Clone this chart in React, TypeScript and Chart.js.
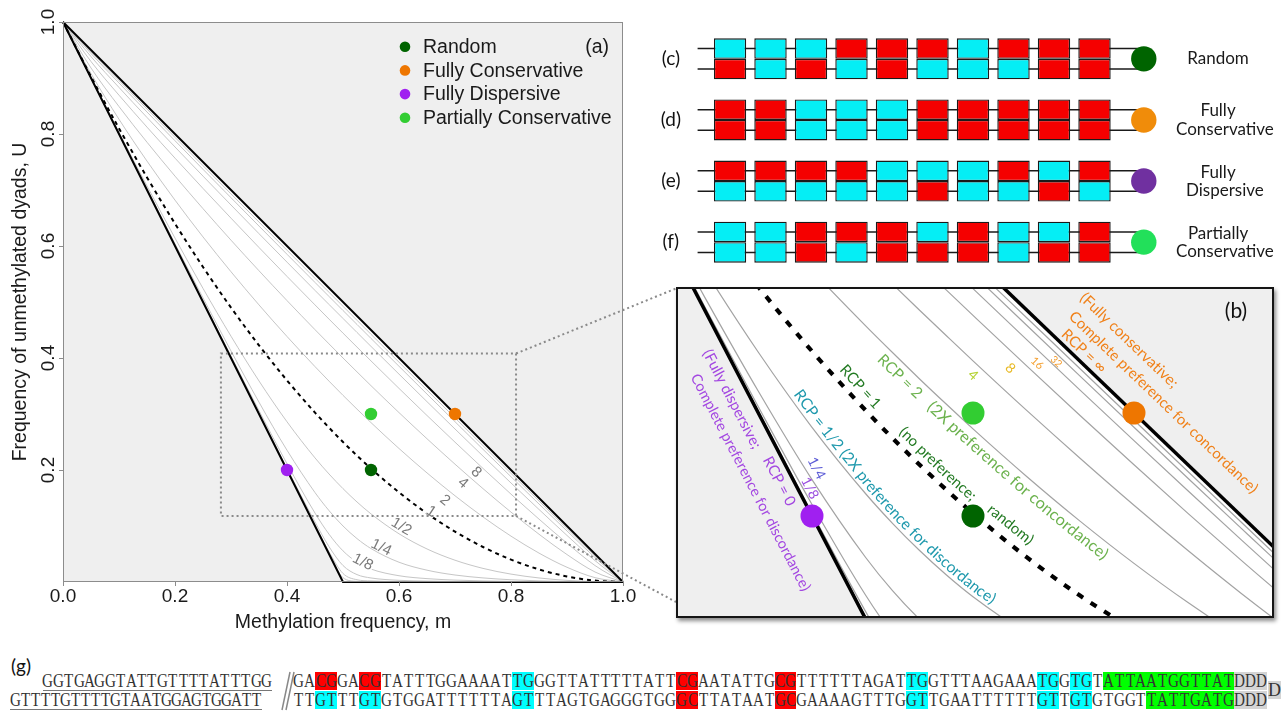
import React, { useEffect, useRef } from 'react';
import { Chart, registerables } from 'chart.js';
Chart.register(...registerables);

// ================= DATA =================
// methylation frequency grid (m) shared by all RCP curves
const mGrid = [0, 0.05, 0.1, 0.15, 0.2, 0.25, 0.3, 0.35, 0.4, 0.45, 0.475, 0.5, 0.525, 0.55, 0.6, 0.65, 0.7, 0.75, 0.8, 0.85, 0.9, 0.95, 1];
// frequency of unmethylated dyads U for each RCP contour
const uRcp_1_64 = [1, 0.9, 0.8, 0.7, 0.6, 0.5, 0.4001, 0.3001, 0.2002, 0.1005, 0.0511, 0.0077, 0.0011, 0.0005, 0.0002, 0.0001, 0.0001, 0, 0, 0, 0, 0, 0];
const uRcp_1_32 = [1, 0.9, 0.8, 0.7, 0.6001, 0.5001, 0.4002, 0.3004, 0.2008, 0.1019, 0.054, 0.0152, 0.004, 0.0019, 0.0008, 0.0004, 0.0002, 0.0001, 0.0001, 0, 0, 0, 0];
const uRcp_1_16 = [1, 0.9, 0.8, 0.7001, 0.6003, 0.5005, 0.4009, 0.3016, 0.203, 0.1072, 0.0632, 0.0294, 0.0132, 0.0072, 0.003, 0.0016, 0.0009, 0.0005, 0.0003, 0.0001, 0, 0, 0];
const uRcp_1_8 = [1, 0.9, 0.8002, 0.7005, 0.601, 0.5019, 0.4034, 0.306, 0.2112, 0.1231, 0.0854, 0.0556, 0.0354, 0.0231, 0.0112, 0.006, 0.0034, 0.0019, 0.001, 0.0005, 0.0002, 0, 0];
const uRcp_1_4 = [1, 0.9002, 0.8008, 0.702, 0.604, 0.5073, 0.4125, 0.3211, 0.2353, 0.1597, 0.1275, 0.1, 0.0775, 0.0597, 0.0353, 0.0211, 0.0125, 0.0073, 0.004, 0.002, 0.0008, 0.0002, 0];
const uRcp_1_2 = [1, 0.9007, 0.8029, 0.7072, 0.6141, 0.5243, 0.4389, 0.359, 0.2861, 0.2216, 0.1929, 0.1667, 0.1429, 0.1216, 0.0861, 0.059, 0.0389, 0.0243, 0.0141, 0.0072, 0.0029, 0.0007, 0];
const uRcp_1 = [1, 0.9025, 0.81, 0.7225, 0.64, 0.5625, 0.49, 0.4225, 0.36, 0.3025, 0.2756, 0.25, 0.2256, 0.2025, 0.16, 0.1225, 0.09, 0.0625, 0.04, 0.0225, 0.01, 0.0025, 0];
const uRcp_2 = [1, 0.9078, 0.8263, 0.7516, 0.6819, 0.6162, 0.554, 0.4948, 0.4384, 0.3846, 0.3587, 0.3333, 0.3087, 0.2846, 0.2384, 0.1948, 0.154, 0.1162, 0.0819, 0.0516, 0.0263, 0.0078, 0];
const uRcp_4 = [1, 0.9179, 0.849, 0.7853, 0.7248, 0.6667, 0.6104, 0.5558, 0.5025, 0.4506, 0.4252, 0.4, 0.3752, 0.3506, 0.3025, 0.2558, 0.2104, 0.1667, 0.1248, 0.0853, 0.049, 0.0179, 0];
const uRcp_8 = [1, 0.9294, 0.8693, 0.8123, 0.7569, 0.7028, 0.6497, 0.5973, 0.5457, 0.4948, 0.4695, 0.4444, 0.4195, 0.3948, 0.3457, 0.2973, 0.2497, 0.2028, 0.1569, 0.1123, 0.0693, 0.0294, 0];
const uRcp_16 = [1, 0.9382, 0.8831, 0.8295, 0.7768, 0.7248, 0.6732, 0.622, 0.5712, 0.5207, 0.4956, 0.4706, 0.4456, 0.4207, 0.3712, 0.322, 0.2732, 0.2248, 0.1768, 0.1295, 0.0831, 0.0382, 0];
const uRcp_32 = [1, 0.9437, 0.8911, 0.8393, 0.788, 0.7369, 0.6862, 0.6356, 0.5852, 0.5349, 0.5099, 0.4848, 0.4599, 0.4349, 0.3852, 0.3356, 0.2862, 0.2369, 0.188, 0.1393, 0.0911, 0.0437, 0];
const uRcp_64 = [1, 0.9467, 0.8954, 0.8445, 0.7939, 0.7434, 0.693, 0.6427, 0.5925, 0.5423, 0.5173, 0.4923, 0.4673, 0.4423, 0.3925, 0.3427, 0.293, 0.2434, 0.1939, 0.1445, 0.0954, 0.0467, 0];
const rcpLabels = ['1/64', '1/32', '1/16', '1/8', '1/4', '1/2', '1', '2', '4', '8', '16', '32', '64'];
const rcpCurves = [uRcp_1_64, uRcp_1_32, uRcp_1_16, uRcp_1_8, uRcp_1_4, uRcp_1_2, uRcp_1, uRcp_2, uRcp_4, uRcp_8, uRcp_16, uRcp_32, uRcp_64];

// limiting cases
const dispersiveM = [0, 0.5, 1];
const dispersiveU = [1, 0, 0];
const conservativeM = [0, 1];
const conservativeU = [1, 0];

// example points
const pointNames = ['Random', 'Fully Conservative', 'Fully Dispersive', 'Partially Conservative'];
const pointM = [0.55, 0.7, 0.4, 0.55];
const pointU = [0.2, 0.3, 0.2, 0.3];

// axes
const xTickValues = [0, 0.2, 0.4, 0.6, 0.8, 1.0];
const xTickLabels = ['0.0', '0.2', '0.4', '0.6', '0.8', '1.0'];
const yTickValues = [0.2, 0.4, 0.6, 0.8, 1.0];
const yTickLabels = ['0.2', '0.4', '0.6', '0.8', '1.0'];
const xTitle = 'Methylation frequency, m';
const yTitle = 'Frequency of unmethylated dyads, U';

// zoomed region shown in (b)
const zoomBoxM = [0.282, 0.809];
const zoomBoxU = [0.118, 0.408];
const panelBRangeM = [0.27515, 0.82858];
const panelBRangeU = [0.10291, 0.42039];

// strand diagrams (c)-(f): 1 = methylated (red), 0 = unmethylated (cyan)
const strandRowTags = ['(c)', '(d)', '(e)', '(f)'];
const strandRowNames = [['Random'], ['Fully', 'Conservative'], ['Fully', 'Dispersive'], ['Partially', 'Conservative']];
const strandTop = [
  [0, 0, 0, 1, 1, 1, 0, 1, 1, 1],
  [1, 1, 0, 0, 0, 1, 1, 1, 1, 1],
  [1, 1, 1, 1, 0, 0, 0, 1, 0, 1],
  [0, 0, 1, 1, 1, 0, 1, 0, 0, 1],
];
const strandBottom = [
  [1, 0, 1, 0, 1, 0, 0, 0, 1, 1],
  [1, 1, 0, 0, 0, 1, 1, 1, 1, 1],
  [0, 0, 0, 0, 0, 1, 0, 0, 1, 0],
  [0, 0, 1, 0, 1, 1, 1, 0, 1, 1],
];

// (g) hairpin sequence
const seqTopLead = 'GGTGAGGTATTGTTTTATTTGG';
const seqBottomLead = 'GTTTTGTTTTGTAATGGAGTGGATT';
const seqTop = 'GACGGACGTATTTGGAAAATTGGGTTATTTTTATTCGAATATTGCGTTTTTTAGATTGGTTTAAGAAATGGTGTATTAATGGTTATDDD';
const seqBottom = 'TTGTTTGTGTGGATTTTTTAGTTTAGTGAGGGTGGGCTTATAATGCGAAAAGTTTGGTTGAATTTTTTGTTGTGTGGTTATTGATGDDD';
const topRedPairs = [2, 6, 35, 44];
const topCyanPairs = [20, 56, 68, 71];
const bottomRedPairs = [35, 44];
const bottomCyanPairs = [2, 6, 20, 56, 68, 71];
const topGreenRange = [74, 85];
const bottomGreenRange = [78, 85];
const tailRange = [86, 88];

// ================= STYLE / LAYOUT =================
const COLORS = ['#006400', '#ee7600', '#a020f0', '#32cd32'];
const STRAND_DOT = ['#006400', '#f08c0a', '#7030a0', '#22e05a'];
const BG_GREY = '#efefef';
const SANS = '"Liberation Sans", Arial, sans-serif';
const HUM = 'Lato, "Open Sans", sans-serif';
const B_LEFT = 676, B_TOP = 287, B_W = 598, B_H = 331;

// contour label anchors in (a): (m, U) where the label text sits
const contourLabelsA = [
  { rcp: '1/8', m: 0.536, u: 0.037 }, { rcp: '1/4', m: 0.569, u: 0.063 }, { rcp: '1/2', m: 0.605, u: 0.1 },
  { rcp: '1', m: 0.658, u: 0.127 }, { rcp: '2', m: 0.683, u: 0.147 }, { rcp: '4', m: 0.715, u: 0.178 },
  { rcp: '8', m: 0.739, u: 0.197 },
];

const PURPLE = '#a347e1', TEAL = '#1f99ad', DKGREEN = '#237a23', LTGREEN = '#6cb24e', ORANGE = '#f08119';
const notesB = [
  { text: '(Fully dispersive;', curve: 'dispersive', m: 0.3159, off: -17, color: PURPLE, size: 15 },
  { text: 'RCP = 0', curve: 'dispersive', m: 0.3687, off: -13, color: PURPLE, size: 15 },
  { text: 'Complete preference for discordance)', curve: 'dispersive', m: 0.3227, off: -39, color: PURPLE, size: 14.6 },
  { text: '1/4', curve: 'dispersive', m: 0.3778, off: 26, color: '#5b5bd6', size: 14 },
  { text: '1/8', curve: 'dispersive', m: 0.3841, off: 11, color: '#9a4fe0', size: 14 },
  { text: 'RCP = 1/2 (2X preference for discordance)', curve: '1/2', m: 0.3795, off: 9, color: TEAL, size: 15.6 },
  { text: 'RCP = 1', curve: '1', m: 0.4202, off: 12, color: DKGREEN, size: 15 },
  { text: '(no preference;', curve: '1', m: 0.4754, off: 12.5, color: DKGREEN, size: 15 },
  { text: 'random)', curve: '1', m: 0.5564, off: 15, color: DKGREEN, size: 15 },
  { text: 'RCP = 2', curve: '2', m: 0.4712, off: -12, color: LTGREEN, size: 15.5 },
  { text: '(2X preference for concordance)', curve: '2', m: 0.5172, off: -11.5, color: LTGREEN, size: 16.3 },
  { text: '4', curve: '4', m: 0.5567, off: -10.6, color: '#b5d334', size: 14, center: true },
  { text: '8', curve: '8', m: 0.593, off: -13, color: '#e8b923', size: 14, center: true },
  { text: '16', curve: '16', m: 0.6161, off: -10, color: '#f5a030', size: 11, center: true },
  { text: '32', curve: '32', m: 0.6313, off: -6, color: '#f39a2a', size: 10, center: true },
  { text: '(Fully conservative;', curve: 'conservative', m: 0.6203, off: 49, color: ORANGE, size: 15.3 },
  { text: 'Complete preference for concordance)', curve: 'conservative', m: 0.6236, off: 28, color: ORANGE, size: 15 },
  { text: 'RCP = \u221e', curve: 'conservative', m: 0.6281, off: 10, color: ORANGE, size: 15 },
];

// ================= HELPERS =================
type P = { x: number; y: number };
function pts(ms: number[], us: number[]) { return ms.map((m, i) => ({ x: m, y: us[i] })); }
function interp(ms: number[], us: number[], m: number) {
  if (m <= ms[0]) return us[0];
  for (let i = 0; i < ms.length - 1; i++) {
    if (m <= ms[i + 1]) { const t = (m - ms[i]) / (ms[i + 1] - ms[i]); return us[i] + t * (us[i + 1] - us[i]); }
  }
  return us[us.length - 1];
}
function curveOf(key: string): [number[], number[]] {
  if (key === 'dispersive') return [dispersiveM, dispersiveU];
  if (key === 'conservative') return [conservativeM, conservativeU];
  return [mGrid, rcpCurves[rcpLabels.indexOf(key)]];
}
function samplePath(chart: any, key: string): P[] {
  const [ms, us] = curveOf(key);
  const xs = chart.scales.x, ys = chart.scales.y;
  const out: P[] = [];
  const N = 800;
  for (let i = 0; i <= N; i++) {
    const m = i / N;
    out.push({ x: xs.getPixelForValue(m), y: ys.getPixelForValue(interp(ms, us, m)) });
  }
  return out;
}
function cumLen(p: P[]) { const c = [0]; for (let i = 1; i < p.length; i++) c.push(c[i - 1] + Math.hypot(p[i].x - p[i - 1].x, p[i].y - p[i - 1].y)); return c; }
function arcAtX(p: P[], c: number[], X: number) {
  for (let i = 0; i < p.length - 1; i++) {
    if (p[i + 1].x >= X) { const dx = p[i + 1].x - p[i].x; const t = dx > 0 ? (X - p[i].x) / dx : 0; return c[i] + t * (c[i + 1] - c[i]); }
  }
  return c[c.length - 1];
}
function posAt(p: P[], c: number[], s: number) {
  let i = 0;
  while (i < p.length - 2 && c[i + 1] < s) i++;
  const seg = (c[i + 1] - c[i]) || 1e-6;
  const t = (s - c[i]) / seg;
  const a = Math.atan2(p[i + 1].y - p[i].y, p[i + 1].x - p[i].x);
  return { x: p[i].x + t * (p[i + 1].x - p[i].x), y: p[i].y + t * (p[i + 1].y - p[i].y), a };
}
function drawAlong(ctx: CanvasRenderingContext2D, p: P[], text: string, X: number, off: number, center: boolean) {
  const c = cumLen(p);
  let s = arcAtX(p, c, X);
  if (center) s -= ctx.measureText(text).width / 2;
  for (const ch of Array.from(text)) {
    const w = ctx.measureText(ch).width;
    const q = posAt(p, c, s + w / 2);
    ctx.save();
    ctx.translate(q.x + Math.sin(q.a) * off, q.y - Math.cos(q.a) * off);
    ctx.rotate(q.a);
    ctx.fillText(ch, 0, 0);
    ctx.restore();
    s += w;
  }
}

function buildDatasets(st: any) {
  const ds: any[] = [];
  pointNames.forEach((n, i) => ds.push({
    label: n, data: [{ x: pointM[i], y: pointU[i] }], showLine: false,
    pointRadius: st.pointRadius, pointBackgroundColor: COLORS[i], pointBorderColor: COLORS[i], pointBorderWidth: 0,
  }));
  ds.push({ label: 'dispersive', data: pts(dispersiveM, dispersiveU), borderColor: '#000', borderWidth: st.blackWidth, pointRadius: 0 });
  ds.push({ label: 'conservative', data: pts(conservativeM, conservativeU), borderColor: '#000', borderWidth: st.blackWidth, pointRadius: 0 });
  ds.push({ label: 'RCP 1', data: pts(mGrid, uRcp_1), borderColor: '#000', borderWidth: st.dashWidth, borderDash: st.dash, pointRadius: 0, cubicInterpolationMode: 'monotone' });
  rcpLabels.forEach((lab, i) => {
    if (lab === '1') return;
    ds.push({ label: 'RCP ' + lab, data: pts(mGrid, rcpCurves[i]), borderColor: st.grey, borderWidth: st.greyWidth, pointRadius: 0, cubicInterpolationMode: 'monotone' });
  });
  ds.push({ label: 'above', data: pts(conservativeM, conservativeU), borderColor: 'rgba(0,0,0,0)', borderWidth: 1, pointRadius: 0, fill: 'end', backgroundColor: BG_GREY });
  ds.push({ label: 'below', data: pts(dispersiveM, dispersiveU), borderColor: 'rgba(0,0,0,0)', borderWidth: 1, pointRadius: 0, fill: 'start', backgroundColor: BG_GREY });
  ds.forEach(d => { d.clip = st.clip; });
  return ds;
}

const whiteBg = {
  id: 'whiteBg',
  beforeDraw(chart: any) {
    const { ctx, chartArea: a } = chart;
    ctx.save(); ctx.fillStyle = '#fff'; ctx.fillRect(a.left, a.top, a.right - a.left, a.bottom - a.top); ctx.restore();
  },
};

const panelAOverlay = {
  id: 'panelAOverlay',
  afterDatasetsDraw(chart: any) {
    const { ctx, chartArea: a } = chart;
    const xs = chart.scales.x, ys = chart.scales.y;
    ctx.save();
    // contour labels
    ctx.font = '15px ' + SANS; ctx.textAlign = 'center'; ctx.textBaseline = 'middle';
    contourLabelsA.forEach(l => {
      const [ms, us] = curveOf(l.rcp);
      const px = (m: number) => ({ x: xs.getPixelForValue(m), y: ys.getPixelForValue(interp(ms, us, m)) });
      const p1 = px(l.m - 0.012), p2 = px(l.m + 0.012);
      const ang = Math.atan2(p2.y - p1.y, p2.x - p1.x);
      const w = ctx.measureText(l.rcp).width;
      ctx.save(); ctx.translate(xs.getPixelForValue(l.m), ys.getPixelForValue(l.u)); ctx.rotate(ang);
      ctx.fillStyle = '#fff'; ctx.fillRect(-w / 2 - 1, -5.5, w + 2, 11);
      ctx.fillStyle = '#7a7a7a'; ctx.fillText(l.rcp, 0, 1);
      ctx.restore();
    });
    // zoom box
    ctx.strokeStyle = '#8a8a8a'; ctx.lineWidth = 2; ctx.setLineDash([2, 3]);
    const bx0 = xs.getPixelForValue(zoomBoxM[0]), bx1 = xs.getPixelForValue(zoomBoxM[1]);
    const by0 = ys.getPixelForValue(zoomBoxU[0]), by1 = ys.getPixelForValue(zoomBoxU[1]);
    ctx.strokeRect(bx0, by1, bx1 - bx0, by0 - by1);
    ctx.beginPath(); ctx.moveTo(bx1, by1); ctx.lineTo(B_LEFT, B_TOP + 1.5); ctx.stroke();
    ctx.beginPath(); ctx.moveTo(bx1, by0); ctx.lineTo(B_LEFT, B_TOP + B_H - 16); ctx.stroke();
    ctx.setLineDash([]);
    // frame
    ctx.strokeStyle = '#8c8c8c'; ctx.lineWidth = 1;
    ctx.strokeRect(a.left + 0.5, a.top + 0.5, a.right - a.left - 1, a.bottom - a.top - 1);
    // ticks
    ctx.beginPath();
    xTickValues.forEach(v => { const x = Math.round(xs.getPixelForValue(v)) + 0.5; ctx.moveTo(x, a.bottom); ctx.lineTo(x, a.bottom + 4); });
    yTickValues.forEach(v => { const y = Math.round(ys.getPixelForValue(v)) + 0.5; ctx.moveTo(a.left, y); ctx.lineTo(a.left - 4, y); });
    ctx.stroke();
    ctx.fillStyle = '#1a1a1a'; ctx.font = '19px ' + SANS; ctx.textAlign = 'center'; ctx.textBaseline = 'middle';
    xTickValues.forEach((v, i) => ctx.fillText(xTickLabels[i], xs.getPixelForValue(v), a.bottom + 15));
    yTickValues.forEach((v, i) => { ctx.save(); ctx.translate(a.left - 14, ys.getPixelForValue(v)); ctx.rotate(-Math.PI / 2); ctx.fillText(yTickLabels[i], 0, 0); ctx.restore(); });
    ctx.font = '19.5px ' + SANS;
    ctx.fillText(xTitle, (a.left + a.right) / 2, a.bottom + 41);
    ctx.save(); ctx.translate(21, (a.top + a.bottom) / 2); ctx.rotate(-Math.PI / 2); ctx.fillText(yTitle, 0, 0); ctx.restore();
    // legend
    ctx.textAlign = 'left';
    pointNames.forEach((n, i) => {
      const y = a.top + 24.7 + i * 23.7;
      ctx.fillStyle = COLORS[i]; ctx.beginPath(); ctx.arc(a.left + 342, y, 5.3, 0, Math.PI * 2); ctx.fill();
      ctx.fillStyle = '#1a1a1a'; ctx.fillText(n, a.left + 360, y + 1);
    });
    ctx.textAlign = 'right';
    ctx.fillText('(a)', a.right - 14, a.top + 25.7);
    ctx.restore();
  },
};

const panelBOverlay = {
  id: 'panelBOverlay',
  afterDatasetsDraw(chart: any) {
    const { ctx, chartArea: a } = chart;
    const xs = chart.scales.x;
    ctx.save();
    ctx.textAlign = 'center'; ctx.textBaseline = 'middle';
    const cache: Record<string, P[]> = {};
    notesB.forEach(n => {
      if (!cache[n.curve]) cache[n.curve] = samplePath(chart, n.curve);
      ctx.font = n.size + 'px ' + HUM;
      ctx.fillStyle = n.color;
      drawAlong(ctx, cache[n.curve], n.text, xs.getPixelForValue(n.m), n.off, !!n.center);
    });
    ctx.fillStyle = '#111'; ctx.font = '21px ' + HUM;
    ctx.fillText('(b)', a.right - 36, a.top + 22);
    ctx.restore();
  },
};

const HALF = 0.3355;
const strandOverlay = {
  id: 'strandOverlay',
  beforeDatasetsDraw(chart: any) {
    const { ctx } = chart; const xs = chart.scales.x, ys = chart.scales.y;
    ctx.save(); ctx.strokeStyle = '#1a1a1a'; ctx.lineWidth = 1.5;
    strandTop.forEach((_, k) => {
      [k + HALF / 2, k + HALF * 1.5].forEach(v => {
        const y = ys.getPixelForValue(v);
        ctx.beginPath(); ctx.moveTo(xs.getPixelForValue(-0.4), y); ctx.lineTo(xs.getPixelForValue(10.6), y); ctx.stroke();
      });
    });
    ctx.restore();
  },
  afterDatasetsDraw(chart: any) {
    const { ctx } = chart; const xs = chart.scales.x, ys = chart.scales.y;
    ctx.save();
    ctx.textAlign = 'center'; ctx.textBaseline = 'middle';
    strandTop.forEach((_, k) => {
      const yc = ys.getPixelForValue(k + HALF);
      ctx.fillStyle = STRAND_DOT[k];
      ctx.beginPath(); ctx.arc(xs.getPixelForValue(10.617), yc, 12.7, 0, Math.PI * 2); ctx.fill();
      ctx.fillStyle = '#111'; ctx.font = '19px ' + HUM;
      ctx.fillText(strandRowTags[k], xs.getPixelForValue(-1.06), yc);
      ctx.font = '17px ' + HUM; ctx.fillStyle = '#1a1a1a';
      const names = strandRowNames[k];
      if (names.length === 1) ctx.fillText(names[0], xs.getPixelForValue(12.45), yc);
      else { ctx.fillText(names[0], xs.getPixelForValue(12.45), yc - 9); ctx.fillText(names[1], xs.getPixelForValue(12.62), yc + 9.5); }
    });
    ctx.restore();
  },
};

function marks(n: number, red: number[], cyan: number[], green: number[]) {
  const out: string[] = new Array(n).fill('');
  red.forEach(s => { out[s] = '#ff0000'; out[s + 1] = '#ff0000'; });
  cyan.forEach(s => { out[s] = '#00ffff'; out[s + 1] = '#00ffff'; });
  for (let i = green[0]; i <= green[1]; i++) out[i] = '#00ff00';
  for (let i = tailRange[0]; i <= tailRange[1]; i++) out[i] = '#d4d4d4';
  return out;
}

function SeqRow(props: { seq: string; left: number; top: number; cell: number; colors?: string[]; underline?: boolean }) {
  const { seq, left, top, cell, colors, underline } = props;
  return (
    <div style={{ position: 'absolute', left, top, height: 18, display: 'flex', borderBottom: underline ? '1px solid #777' : 'none' }}>
      {Array.from(seq).map((ch, i) => (
        <span key={i} style={{ width: cell, height: 18, flex: 'none', background: (colors && colors[i]) || 'transparent', display: 'flex', alignItems: 'center', justifyContent: 'center', font: '18px "Liberation Serif", serif', color: '#333', lineHeight: '18px' }}>
          <span style={{ display: 'inline-block', transform: 'scaleX(0.84)' }}>{ch}</span>
        </span>
      ))}
    </div>
  );
}

export default function App() {
  const refA = useRef<HTMLCanvasElement>(null);
  const refB = useRef<HTMLCanvasElement>(null);
  const refC = useRef<HTMLCanvasElement>(null);

  useEffect(() => {
    const base = { animation: false, responsive: false, maintainAspectRatio: false, events: [], devicePixelRatio: 1 };
    const chartA = new Chart(refA.current as HTMLCanvasElement, {
      type: 'line',
      data: { datasets: buildDatasets({ pointRadius: 6.2, blackWidth: 2, dashWidth: 2, dash: [4, 4], grey: '#c6c6c6', greyWidth: 1, clip: 3 }) },
      options: {
        ...base,
        layout: { autoPadding: false, padding: { left: 63, top: 22, right: 57, bottom: 63 } },
        scales: { x: { type: 'linear', min: 0, max: 1, display: false }, y: { type: 'linear', min: 0, max: 1, display: false } },
        plugins: { legend: { display: false }, tooltip: { enabled: false } },
      } as any,
      plugins: [whiteBg, panelAOverlay],
    });
    const chartB = new Chart(refB.current as HTMLCanvasElement, {
      type: 'line',
      data: { datasets: buildDatasets({ pointRadius: 11.5, blackWidth: 3.5, dashWidth: 4.2, dash: [7, 9], grey: '#a3a3a3', greyWidth: 1.2, clip: 0 }) },
      options: {
        ...base,
        layout: { autoPadding: false, padding: 0 },
        scales: {
          x: { type: 'linear', min: panelBRangeM[0], max: panelBRangeM[1], display: false },
          y: { type: 'linear', min: panelBRangeU[0], max: panelBRangeU[1], display: false },
        },
        plugins: { legend: { display: false }, tooltip: { enabled: false } },
      } as any,
      plugins: [whiteBg, panelBOverlay],
    });
    const strandSets: any[] = [];
    strandTop.forEach((top, k) => {
      [top, strandBottom[k]].forEach((strand, h) => {
        strandSets.push({
          data: strand.map((s, i) => ({ x: i + 0.4, y: [k + h * HALF, k + (h + 1) * HALF] })),
          backgroundColor: strand.map(s => (s ? '#f50000' : '#05eef5')),
          borderColor: '#1a1a1a', borderWidth: 1.4, borderSkipped: false, grouped: false,
          barPercentage: 0.8, categoryPercentage: 1,
        });
      });
    });
    const chartC = new Chart(refC.current as HTMLCanvasElement, {
      type: 'bar',
      data: { datasets: strandSets },
      options: {
        ...base,
        layout: { autoPadding: false, padding: { left: 73.8, right: 162.2, top: 0, bottom: 0 } },
        scales: {
          x: { type: 'linear', min: 0, max: 10, offset: false, display: false, ticks: { stepSize: 1 } },
          y: { type: 'linear', reverse: true, min: -0.3, max: 3.808, display: false },
        },
        plugins: { legend: { display: false }, tooltip: { enabled: false } },
      } as any,
      plugins: [strandOverlay],
    });
    return () => { chartA.destroy(); chartB.destroy(); chartC.destroy(); };
  }, []);

  const topColors = marks(seqTop.length, topRedPairs, topCyanPairs, topGreenRange);
  const bottomColors = marks(seqBottom.length, bottomRedPairs, bottomCyanPairs, bottomGreenRange);

  return (
    <div style={{ position: 'absolute', left: 0, top: 0, width: 1281, height: 711, overflow: 'hidden', background: '#fff' }}>
      <canvas ref={refC} width={641} height={251} style={{ position: 'absolute', left: 640, top: 20 }} />
      <canvas ref={refA} width={680} height={645} style={{ position: 'absolute', left: 0, top: 0 }} />
      <div style={{ position: 'absolute', left: B_LEFT, top: B_TOP, width: B_W - 4, height: B_H - 4, border: '2px solid #151515', boxShadow: '2px 3px 4px rgba(0,0,0,0.45)', background: '#fff' }}>
        <canvas ref={refB} width={B_W - 4} height={B_H - 4} style={{ display: 'block' }} />
      </div>
      <div style={{ position: 'absolute', left: 11, top: 654, font: '19px ' + HUM, color: '#111' }}>(g)</div>
      <SeqRow seq={seqTopLead} left={42.7} top={672} cell={10.41} underline />
      <SeqRow seq={seqBottomLead} left={10} top={690.5} cell={10.08} underline />
      <svg style={{ position: 'absolute', left: 278, top: 670 }} width={20} height={42}>
        <line x1={4} y1={40} x2={12} y2={2} stroke="#888" strokeWidth={1.5} />
        <line x1={8} y1={40} x2={16} y2={2} stroke="#888" strokeWidth={1.5} />
      </svg>
      <SeqRow seq={seqTop} left={293.3} top={672} cell={10.95} colors={topColors} />
      <SeqRow seq={seqBottom} left={293.3} top={690.5} cell={10.95} colors={bottomColors} />
      <div style={{ position: 'absolute', left: 1268, top: 681, width: 14, height: 18, background: '#d4d4d4', font: '18px "Liberation Serif", serif', color: '#333', lineHeight: '18px' }}>D</div>
    </div>
  );
}
